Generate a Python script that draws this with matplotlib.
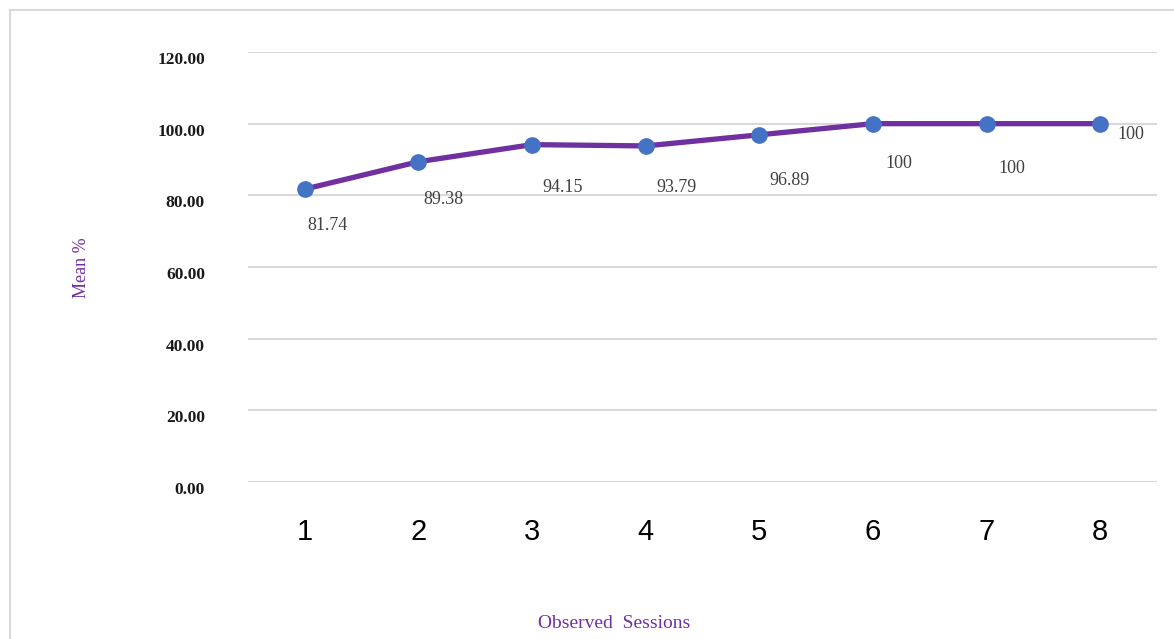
import matplotlib.pyplot as plt
from matplotlib.patches import Rectangle

# session means
sessions = [1, 2, 3, 4, 5, 6, 7, 8]
mean_pct = [81.74, 89.38, 94.15, 93.79, 96.89, 100, 100, 100]
value_labels = ["81.74", "89.38", "94.15", "93.79", "96.89", "100", "100", "100"]
y_ticks = [0, 20, 40, 60, 80, 100, 120]

# where each value label sits relative to its point (points)
label_offsets = [(16, -26), (18, -27), (22, -31), (22, -30), (22, -33),
                 (19, -29), (18, -32), (22, -8)]

purple = "#7030A0"
blue = "#4472C4"

fig = plt.figure(figsize=(11.74, 6.39), dpi=100)
fig.patches.append(Rectangle((10 / 1174, -0.2), 1.2, 1.2 - 10 / 639,
                             transform=fig.transFigure, fill=False,
                             edgecolor="#d9d9d9", linewidth=1.5))

ax = fig.add_axes([248 / 1174, 1 - 482 / 639, 909 / 1174, 430 / 639])
ax.plot(sessions, mean_pct, color=purple, linewidth=3.8, zorder=3,
        marker="o", markersize=11, markerfacecolor=blue, markeredgecolor=blue)

for x, y, lab, off in zip(sessions, mean_pct, value_labels, label_offsets):
    ax.annotate(lab, (x, y), xytext=off, textcoords="offset points",
                ha="center", va="center", fontsize=13,
                family="Liberation Serif", color="#404040")

ax.set_xlim(0.5, 8.5)
ax.set_ylim(0, 120)
ax.set_yticks(y_ticks)
ax.set_yticklabels([f"{v:.2f}" for v in y_ticks], family="Liberation Serif",
                   fontweight="bold", fontsize=12.5, color="#1a1a1a",
                   va="top")
for lab in ax.get_yticklabels():
    lab.set_y(lab.get_position()[1])
ax.tick_params(axis="y", length=0, pad=31)
ax.set_xticks(sessions)
ax.set_xticklabels([str(s) for s in sessions], family="Liberation Sans",
                   fontsize=21, color="black")
ax.tick_params(axis="x", length=0, pad=26)
ax.grid(axis="y", color="#d9d9d9", linewidth=1.5)
ax.set_axisbelow(True)
for s in ax.spines.values():
    s.set_visible(False)

fig.text(82 / 1174, 1 - 268 / 639, "Mean %", rotation=90, ha="center",
         va="center", color=purple, fontsize=13, family="Liberation Serif")
fig.text(614 / 1174, 1 - 624 / 639, "Observed  Sessions", ha="center",
         va="center", color=purple, fontsize=14, family="Liberation Serif")

fig.savefig("out.png", dpi=100)
